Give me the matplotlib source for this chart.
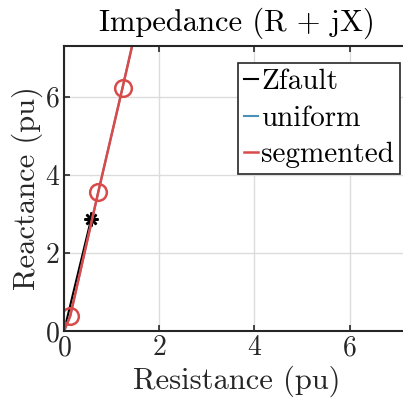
import matplotlib
matplotlib.use("Agg")
import matplotlib.pyplot as plt

# impedance trajectories (pu)
fault_r = [0.0, 0.57]
fault_x = [0.0, 2.87]

uniform_r = [0.0, 0.13, 0.72, 1.23, 1.60]
uniform_x = [0.0, 0.38, 3.56, 6.23, 8.20]

seg_r = [0.0, 0.13, 0.72, 1.23, 1.60]
seg_x = [0.0, 0.38, 3.56, 6.23, 8.20]
seg_marker_r = [0.13, 0.72, 1.23]
seg_marker_x = [0.38, 3.56, 6.23]

plt.rcParams['font.family'] = 'serif'
plt.rcParams['font.serif'] = ['cmr10']
plt.rcParams['mathtext.fontset'] = 'cm'
plt.rcParams['axes.formatter.use_mathtext'] = True

fig = plt.figure(figsize=(4.03, 4.04), dpi=100)
ax = fig.add_axes([64 / 403, 1 - 331 / 404, 345 / 403, 285 / 404])

ax.plot(fault_r, fault_x, color='black', lw=1.5, label='Zfault')
ax.plot(fault_r[-1], fault_x[-1], marker=(8, 2, 0), color='black', ms=10, mew=1.8)
ax.plot(uniform_r, uniform_x, color='#4a90b8', lw=1.5, label='uniform')
ax.plot(seg_r, seg_x, color='#d94a4a', lw=1.8, label='segmented')
ax.plot(seg_marker_r, seg_marker_x, 'o', color='#d94a4a', ms=12, mfc='none', mew=1.8)

ax.set_xlim(0, 7.25)
ax.set_ylim(0, 7.3)
ax.set_xticks([0, 2, 4, 6])
ax.set_yticks([0, 2, 4, 6])
ax.tick_params(direction='in', labelsize=20, length=4, width=1.2, top=True, right=True,
               color='#262626', labelcolor='#262626', pad=3)
ax.grid(True, color='#dcdcdc', lw=1)
for s in ax.spines.values():
    s.set_linewidth(1.5)
    s.set_color('#262626')

ax.set_xlabel('Resistance (pu)', fontsize=22, color='#262626', labelpad=3)
ax.set_ylabel('Reactance (pu)', fontsize=22, color='#262626', labelpad=1)
ax.set_title('Impedance (R + jX)', fontsize=22, color='#000000', pad=11)

leg = ax.legend(loc='upper right', fontsize=21, handlelength=0.5, handletextpad=0.1,
                borderpad=0.2, labelspacing=0.35, fancybox=False, framealpha=1,
                edgecolor='#262626', borderaxespad=0,
                bbox_to_anchor=(400 / 403, 1 - 63 / 404), bbox_transform=fig.transFigure)
leg.get_frame().set_linewidth(1.2)

fig.savefig('out.png', dpi=100)
